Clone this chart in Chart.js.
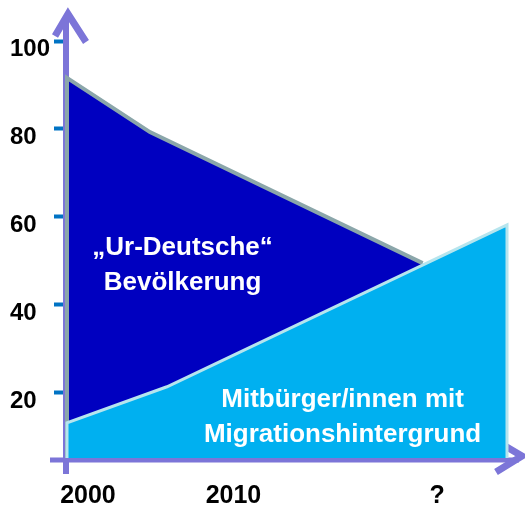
<!DOCTYPE html>
<html>
<head>
<meta charset="utf-8">
<script src="https://cdn.jsdelivr.net/npm/chart.js@4/dist/chart.umd.min.js"></script>
<style>
  body { margin: 0; background: #fff; }
  canvas { display: block; }
</style>
</head>
<body>
<canvas id="chart" width="525" height="508"></canvas>
<script>
// Data (x = year, y = share)
const urYears = [1998.56, 1998.56, 2004.26, 2023.0];
const urValues = [5.2, 91.6, 79.3, 49.5];
const migYears = [1998.56, 1998.56, 2005.43, 2028.8, 2028.8];
const migValues = [5.2, 13.2, 21.4, 58.2, 5.2];

const xTickValues = [2000, 2010, 2024];
const xTickLabels = ['2000', '2010', '?'];
const yTickValues = [20, 40, 60, 80, 100];
const yTickLabels = ['20', '40', '60', '80', '100'];

// text inside the areas, anchored in data units
const areaLabels = [
  { lines: ['\u201EUr-Deutsche\u201C', 'Bevölkerung'], x: 2006.5, y: 53 },
  { lines: ['Mitbürger/innen mit', 'Migrationshintergrund'], x: 2017.5, y: 18.4 }
];

function toPoints(xs, ys) {
  return xs.map((x, i) => ({ x: x, y: ys[i] }));
}

Chart.defaults.font.family = '"Liberation Sans", Arial, sans-serif';

// Function to draw the arrow axes behind the areas
const arrowAxes = {
  id: 'arrowAxes',
  beforeDatasetsDraw(chart) {
    const { ctx, chartArea } = chart;
    const l = chartArea.left, b = chartArea.bottom, t = chartArea.top, r = chartArea.right;
    ctx.save();
    ctx.strokeStyle = '#7c75d8';
    ctx.lineCap = 'butt';
    ctx.lineJoin = 'miter';

    // vertical
    ctx.lineWidth = 6;
    ctx.beginPath();
    ctx.moveTo(l - 1, b + 16);
    ctx.lineTo(l - 1, t - 25);
    ctx.stroke();
    ctx.lineWidth = 7;
    ctx.beginPath();
    ctx.moveTo(l - 12, t - 5);
    ctx.lineTo(l + 1, t - 27);
    ctx.lineTo(l + 19, t + 1);
    ctx.stroke();

    // horizontal
    ctx.lineWidth = 5;
    ctx.beginPath();
    ctx.moveTo(l - 17, b + 2);
    ctx.lineTo(r + 12, b + 2);
    ctx.stroke();
    ctx.lineWidth = 7;
    ctx.beginPath();
    ctx.moveTo(r - 2, b - 12);
    ctx.lineTo(r + 15, b - 2);
    ctx.lineTo(r - 11, b + 14);
    ctx.stroke();
    ctx.restore();
  }
};

// Function to write the white area labels
const areaText = {
  id: 'areaText',
  afterDatasetsDraw(chart) {
    const { ctx, scales } = chart;
    ctx.save();
    ctx.fillStyle = '#ffffff';
    ctx.font = 'bold 26px "Liberation Sans", Arial, sans-serif';
    ctx.textAlign = 'center';
    ctx.textBaseline = 'middle';
    areaLabels.forEach((lab) => {
      const px = scales.x.getPixelForValue(lab.x);
      const py = scales.y.getPixelForValue(lab.y);
      lab.lines.forEach((line, i) => {
        ctx.fillText(line, px, py + i * 35);
      });
    });
    ctx.restore();
  }
};

let populationChart = new Chart(
  document.getElementById('chart').getContext('2d'),
  {
    type: 'line',
    data: {
      datasets: [
        {
          label: 'Mitbürger/innen mit Migrationshintergrund',
          data: toPoints(migYears, migValues),
          backgroundColor: '#00b0f0',
          borderColor: '#b6e5ee',
          borderWidth: 3,
          fill: 'start',
          pointRadius: 0,
          tension: 0,
          clip: false
        },
        {
          label: 'Ur-Deutsche Bevölkerung',
          data: toPoints(urYears, urValues),
          backgroundColor: '#0000c0',
          borderColor: '#8ba6aa',
          borderWidth: 4,
          fill: 'start',
          pointRadius: 0,
          tension: 0,
          clip: false
        }
      ]
    },
    options: {
      responsive: false,
      animation: false,
      layout: { padding: { left: 10, top: 41, right: 18, bottom: 0 } },
      plugins: {
        legend: { display: false },
        tooltip: { enabled: false }
      },
      scales: {
        x: {
          type: 'linear',
          min: 1998.56,
          max: 2028.8,
          afterBuildTicks: (s) => { s.ticks = xTickValues.map((v) => ({ value: v })); },
          afterFit: (s) => { s.height = 50; },
          grid: { display: false, drawTicks: false },
          border: { display: false },
          ticks: {
            autoSkip: false,
            maxRotation: 0,
            padding: 23,
            color: '#000',
            font: { size: 25, weight: 'bold' },
            callback: (v, i) => xTickLabels[i]
          }
        },
        y: {
          min: 5.2,
          max: 100,
          afterBuildTicks: (s) => { s.ticks = yTickValues.map((v) => ({ value: v })); },
          afterFit: (s) => { s.width = 57; },
          grid: {
            drawOnChartArea: false,
            drawTicks: true,
            tickLength: 13,
            tickWidth: 4,
            tickColor: '#0073c4'
          },
          border: { display: false },
          ticks: {
            crossAlign: 'far',
            labelOffset: 8,
            padding: 3,
            color: '#000',
            font: { size: 24, weight: 'bold' },
            callback: (v, i) => yTickLabels[i]
          }
        }
      }
    },
    plugins: [arrowAxes, areaText]
  }
);
</script>
</body>
</html>
